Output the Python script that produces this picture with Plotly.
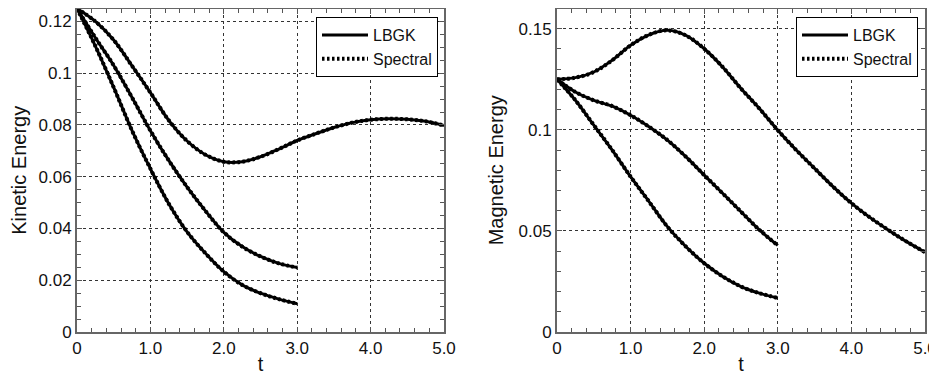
import plotly.graph_objects as go

# ---- data ----
t_long = [0, 0.25, 0.5, 0.75, 1.0, 1.25, 1.5, 1.75, 2.0, 2.25, 2.5, 2.75, 3.0,
          3.25, 3.5, 3.75, 4.0, 4.25, 4.5, 4.75, 5.0]
t_short = [0, 0.25, 0.5, 0.75, 1.0, 1.25, 1.5, 1.75, 2.0, 2.25, 2.5, 2.75, 3.0]

ke_a = [0.125, 0.1200, 0.1128, 0.1028, 0.0925, 0.0818, 0.0738, 0.0685, 0.0658, 0.0658,
        0.0677, 0.0707, 0.0740, 0.0766, 0.0790, 0.0809, 0.0820, 0.0824, 0.0822, 0.0814, 0.0798]
ke_b = [0.125, 0.1137, 0.1030, 0.0906, 0.0778, 0.0663, 0.0560, 0.0468, 0.0385,
        0.0330, 0.0292, 0.0265, 0.0249]
ke_c = [0.125, 0.1105, 0.0945, 0.0778, 0.0631, 0.0496, 0.0387, 0.0304, 0.0233,
        0.0182, 0.0150, 0.0127, 0.0109]

me_a = [0.125, 0.1258, 0.1286, 0.1344, 0.1418, 0.1470, 0.1492, 0.1467, 0.1401, 0.1311,
        0.1204, 0.1105, 0.0998, 0.0900, 0.0809, 0.0719, 0.0637, 0.0567, 0.0505, 0.0447, 0.0395]
me_b = [0.125, 0.1187, 0.1146, 0.1117, 0.1072, 0.1015, 0.0949, 0.0867, 0.0776,
        0.0686, 0.0595, 0.0505, 0.0428]
me_c = [0.125, 0.1146, 0.1023, 0.0900, 0.0768, 0.0645, 0.0521, 0.0423, 0.0340,
        0.0275, 0.0225, 0.0192, 0.0168]

x_tickvals = [0, 1, 2, 3, 4, 5]
x_ticktext = ["0", "1.0", "2.0", "3.0", "4.0", "5.0"]
ke_tickvals = [0, 0.02, 0.04, 0.06, 0.08, 0.1, 0.12]
ke_ticktext = ["0", "0.02", "0.04", "0.06", "0.08", "0.1", "0.12"]
me_tickvals = [0, 0.05, 0.1, 0.15]
me_ticktext = ["0", "0.05", "0.1", "0.15"]

series_names = ["LBGK", "Spectral"]

FONT = "Liberation Sans, Arial, Helvetica, sans-serif"

fig = go.Figure()

panels = [
    ("x", "y", "legend", [(t_long, ke_a), (t_short, ke_b), (t_short, ke_c)]),
    ("x2", "y2", "legend2", [(t_long, me_a), (t_short, me_b), (t_short, me_c)]),
]

for xa, ya, leg, curves in panels:
    for i, (tt, vv) in enumerate(curves):
        fig.add_trace(go.Scatter(
            x=tt, y=vv, xaxis=xa, yaxis=ya, mode="lines",
            line=dict(color="black", width=3, shape="spline", smoothing=1.0),
            name=series_names[0], legend=leg, showlegend=(i == 0),
            legendrank=1, hoverinfo="skip"))
    for i, (tt, vv) in enumerate(curves):
        fig.add_trace(go.Scatter(
            x=tt, y=vv, xaxis=xa, yaxis=ya, mode="lines",
            line=dict(color="black", width=4, dash="2.5px,2.5px", shape="spline", smoothing=1.0),
            name=series_names[1], legend=leg, showlegend=(i == 0),
            legendrank=2, hoverinfo="skip"))

# page body has an 8px default margin: figure is offset by 8px right/down
OFF = 8
W, H = 937, 375 - OFF


def xdom(a, b):
    return [(a - OFF) / W, (b - OFF) / W]


ydom = [(H - (332 - OFF)) / H, min(1.0, (H - (8.5 - OFF)) / H)]

common_axis = dict(
    showline=True, linecolor="#666666", linewidth=2, mirror="allticks",
    ticks="inside", ticklen=5, tickcolor="#555555", tickwidth=1,
    showgrid=True, gridcolor="#333333", gridwidth=1, griddash="dot",
    zeroline=False, tickfont=dict(family=FONT, size=17, color="#111111"),
    title_font=dict(family=FONT, size=20, color="#111111"),
    automargin=False, fixedrange=True,
)

leg_common = dict(
    yanchor="top", xanchor="right", bgcolor="white", bordercolor="black", borderwidth=1,
    font=dict(family=FONT, size=16, color="#111111"), tracegroupgap=0, itemwidth=46,
)

fig.update_layout(
    width=W, height=H,
    margin=dict(l=0, r=0, t=0, b=0),
    paper_bgcolor="white", plot_bgcolor="white",
    font=dict(family=FONT, color="#111111"),
    xaxis=dict(domain=xdom(77, 444), range=[0, 5], tickvals=x_tickvals, ticktext=x_ticktext,
               minor=dict(ticks="inside", ticklen=4, dtick=0.2, tick0=0, tickcolor="#555555"),
               title=dict(text="t", standoff=2), anchor="y", **common_axis),
    yaxis=dict(domain=ydom, range=[0, 0.125], tickvals=ke_tickvals, ticktext=ke_ticktext,
               minor=dict(ticks="inside", ticklen=4, dtick=0.005, tick0=0, tickcolor="#555555"),
               title=dict(text="Kinetic Energy", standoff=10), anchor="x", **common_axis),
    xaxis2=dict(domain=xdom(557, 925), range=[0, 5], tickvals=x_tickvals, ticktext=x_ticktext,
                minor=dict(ticks="inside", ticklen=4, dtick=0.2, tick0=0, tickcolor="#555555"),
                title=dict(text="t", standoff=2), anchor="y2", **common_axis),
    yaxis2=dict(domain=ydom, range=[0, 0.16], tickvals=me_tickvals, ticktext=me_ticktext,
                minor=dict(ticks="inside", ticklen=4, dtick=0.01, tick0=0, tickcolor="#555555"),
                title=dict(text="Magnetic Energy", standoff=10), anchor="x2", **common_axis),
    legend=dict(x=(438 - OFF) / W, y=(H - (17 - OFF)) / H, **leg_common),
    legend2=dict(x=(918 - OFF) / W, y=(H - (17 - OFF)) / H, **leg_common),
)

fig.write_html("out.html")
